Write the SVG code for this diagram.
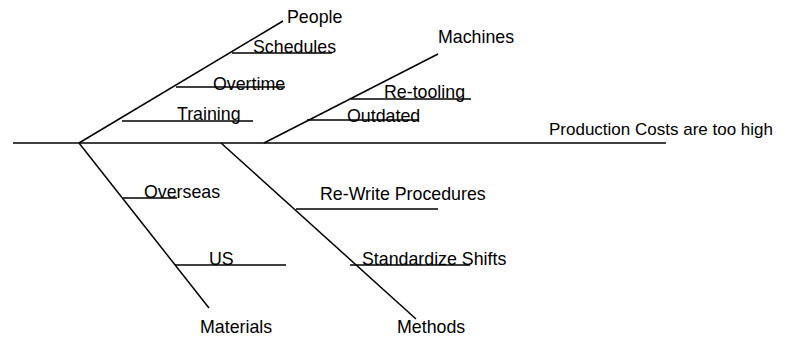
<svg xmlns="http://www.w3.org/2000/svg" width="786" height="337" viewBox="0 0 786 337">
<style>
.ln{stroke:#000;stroke-width:1.5;fill:none}
.t{font-family:"Liberation Sans",Arial,sans-serif;font-size:17.8px;fill:#000}
.e{font-size:17px}
</style>
<rect width="786" height="337" fill="#fff"/>
<g id="connectors">
<line class="ln" x1="13" y1="143" x2="666" y2="143"/>
<line class="ln" x1="79" y1="143" x2="283" y2="21"/>
<line class="ln" x1="232" y1="53" x2="332" y2="53"/>
<line class="ln" x1="176" y1="87" x2="285" y2="87"/>
<line class="ln" x1="122" y1="121" x2="253" y2="121"/>
<line class="ln" x1="264" y1="143" x2="438" y2="54"/>
<line class="ln" x1="351" y1="99" x2="471" y2="99"/>
<line class="ln" x1="307" y1="120" x2="419" y2="120"/>
<line class="ln" x1="79" y1="143" x2="209" y2="308"/>
<line class="ln" x1="123" y1="198" x2="177" y2="198"/>
<line class="ln" x1="175" y1="265" x2="286" y2="265"/>
<line class="ln" x1="221" y1="143" x2="416" y2="319"/>
<line class="ln" x1="296" y1="209" x2="438" y2="209"/>
<line class="ln" x1="350" y1="265" x2="470" y2="265"/>
</g>
<g id="effect"><text class="t e" x="549" y="135">Production Costs are too high</text></g>
<g id="people"><text class="t" x="287" y="23">People</text></g>
<g id="schedules"><text class="t" x="253" y="53">Schedules</text></g>
<g id="overtime"><text class="t" x="213" y="90">Overtime</text></g>
<g id="training"><text class="t" x="177" y="120">Training</text></g>
<g id="machines"><text class="t" x="438" y="43">Machines</text></g>
<g id="retooling"><text class="t" x="384" y="98">Re-tooling</text></g>
<g id="outdated"><text class="t" x="347" y="122">Outdated</text></g>
<g id="materials"><text class="t" x="200" y="333">Materials</text></g>
<g id="overseas"><text class="t" x="144" y="198">Overseas</text></g>
<g id="us"><text class="t" x="209" y="265">US</text></g>
<g id="methods"><text class="t" x="397" y="333">Methods</text></g>
<g id="rewrite"><text class="t" x="320" y="200">Re-Write Procedures</text></g>
<g id="standardize"><text class="t" x="362" y="265">Standardize Shifts</text></g>
</svg>
